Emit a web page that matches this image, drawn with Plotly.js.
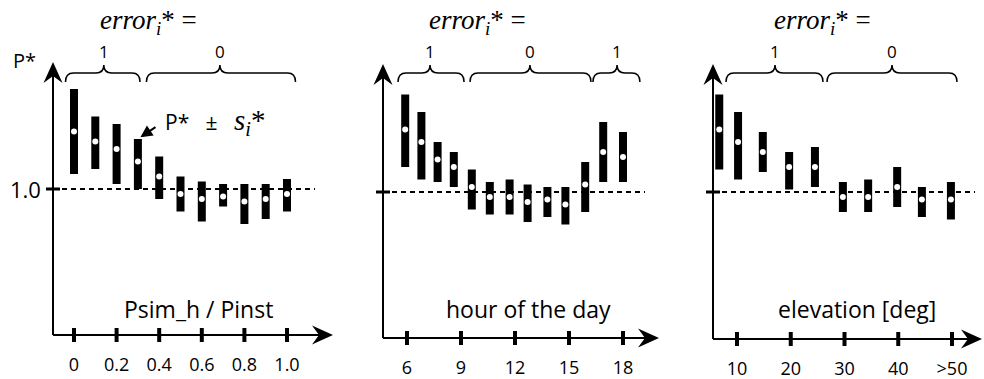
<!DOCTYPE html>
<html><head><meta charset="utf-8">
<script src="https://cdn.plot.ly/plotly-3.0.1.min.js"></script>
<style>html,body{margin:0;padding:0;background:#fff;}#chart{width:984px;height:379px;}</style>
</head><body><div id="chart"></div>
<script>
// ---------------- data ----------------
// Panel 1: Psim_h / Pinst
const ratioX    = [0, 0.1, 0.2, 0.3, 0.4, 0.5, 0.6, 0.7, 0.8, 0.9, 1.0];
const ratioMid  = [1.23, 1.19, 1.16, 1.11, 1.05, 0.98, 0.96, 0.97, 0.95, 0.96, 0.98];
const ratioLow  = [1.06, 1.08, 1.02, 1.00, 0.96, 0.91, 0.87, 0.93, 0.86, 0.88, 0.91];
const ratioHigh = [1.40, 1.29, 1.26, 1.20, 1.13, 1.05, 1.03, 1.02, 1.02, 1.02, 1.04];
const ratioTicks = [0, 0.2, 0.4, 0.6, 0.8, 1.0];
const ratioTickText = ['0', '0.2', '0.4', '0.6', '0.8', '1.0'];

// Panel 2: hour of the day
const hourX    = [5.9, 6.8, 7.7, 8.6, 9.6, 10.6, 11.7, 12.7, 13.8, 14.8, 15.9, 16.9, 18.0];
const hourMid  = [1.25, 1.20, 1.13, 1.10, 1.02, 0.98, 0.98, 0.96, 0.97, 0.95, 1.03, 1.16, 1.14];
const hourLow  = [1.10, 1.05, 1.04, 1.02, 0.93, 0.91, 0.91, 0.88, 0.90, 0.87, 0.92, 1.04, 1.04];
const hourHigh = [1.39, 1.32, 1.20, 1.16, 1.09, 1.04, 1.05, 1.03, 1.02, 1.02, 1.12, 1.28, 1.24];
const hourTicks = [6, 9, 12, 15, 18];
const hourTickText = ['6', '9', '12', '15', '18'];

// Panel 3: elevation [deg]
const elevX    = [6.7, 10.2, 14.8, 19.7, 24.5, 29.7, 34.4, 39.8, 44.4, 49.8];
const elevMid  = [1.25, 1.20, 1.16, 1.10, 1.10, 0.98, 0.98, 1.02, 0.97, 0.97];
const elevLow  = [1.09, 1.05, 1.08, 1.01, 1.02, 0.92, 0.92, 0.94, 0.90, 0.89];
const elevHigh = [1.39, 1.32, 1.24, 1.16, 1.18, 1.04, 1.05, 1.10, 1.02, 1.04];
const elevTicks = [10, 20, 30, 40, 50];
const elevTickText = ['10', '20', '30', '40', '>50'];

// error_i* groups (braces) in axis units
const ratioGroups = [{from: -0.04, to: 0.31, tip: 0.14, label: '1'}, {from: 0.34, to: 1.04, tip: 0.685, label: '0'}];
const hourGroups  = [{from: 5.5, to: 9.17, tip: 7.28, label: '1'}, {from: 9.5, to: 16.22, tip: 12.83, label: '0'}, {from: 16.33, to: 18.94, tip: 17.67, label: '1'}];
const elevGroups  = [{from: 7.95, to: 26.0, tip: 17.07, label: '1'}, {from: 26.74, to: 50.93, tip: 38.84, label: '0'}];

// ---------------- layout geometry ----------------
const W = 984, H = 379, UNIT = 250, PAD = 16;
const SANS = 'Open Sans, sans-serif';
const SERIF = 'Liberation Serif, serif';
const panels = [
  {x: ratioX, mid: ratioMid, lo: ratioLow, hi: ratioHigh, ticks: ratioTicks, tickText: ratioTickText, groups: ratioGroups,
   title: 'Psim_h / Pinst', titlePx: 198, errPx: 148,
   px: [0, 338], ma: [0, 74], mb: [1, 287], yOne: 189, yBase: 335, yAxisPx: 53, xTipPx: 333, yTipPx: 62, dashEndPx: 315},
  {x: hourX, mid: hourMid, lo: hourLow, hi: hourHigh, ticks: hourTicks, tickText: hourTickText, groups: hourGroups,
   title: 'hour of the day', titlePx: 528, errPx: 477,
   px: [338, 664], ma: [6, 407], mb: [18, 623], yOne: 192, yBase: 338, yAxisPx: 383, xTipPx: 659, yTipPx: 64, dashEndPx: 645},
  {x: elevX, mid: elevMid, lo: elevLow, hi: elevHigh, ticks: elevTicks, tickText: elevTickText, groups: elevGroups,
   title: 'elevation [deg]', titlePx: 857, errPx: 822,
   px: [664, 984], ma: [10, 737], mb: [50, 952], yOne: 192, yBase: 339, yAxisPx: 713, xTipPx: 982, yTipPx: 64, dashEndPx: 975}
];
function toX(p, px) { return p.ma[0] + (px - p.ma[1]) * (p.mb[0] - p.ma[0]) / (p.mb[1] - p.ma[1]); }
function dX(p, dpx) { return dpx * (p.mb[0] - p.ma[0]) / (p.mb[1] - p.ma[1]); }
function toY(p, py) { return 1 + (p.yOne - py) / UNIT; }
function paperX(px) { return px / W; }
function paperY(py) { return 1 - py / H; }
function pathOf(p, pts) { return 'M ' + pts.map(q => toX(p, q[0]) + ',' + toY(p, q[1])).join(' L ') + ' Z'; }

const traces = [], shapes = [], annotations = [];
const layout = {
  width: W, height: H, margin: {l: 0, r: 0, t: 0, b: 0},
  paper_bgcolor: '#fff', plot_bgcolor: 'rgba(0,0,0,0)', showlegend: false,
  font: {family: SANS, color: '#000'}
};

panels.forEach((p, i) => {
  const n = i === 0 ? '' : String(i + 1);
  const xa = 'x' + n, ya = 'y' + n;
  const yAxisVal = toY(p, p.yBase);
  layout['xaxis' + n] = {
    domain: [p.px[0] / W, p.px[1] / W], range: [toX(p, p.px[0]), toX(p, p.px[1])],
    anchor: ya, showgrid: false, zeroline: false, showline: false, ticks: '',
    tickvals: p.ticks, ticktext: p.tickText, tickfont: {family: SANS, size: 18, color: '#000'},
    ticklabelstandoff: 17 - PAD, fixedrange: true
  };
  layout['yaxis' + n] = {
    domain: [paperY(p.yBase + PAD), 1], range: [toY(p, p.yBase + PAD), toY(p, 0)], anchor: xa,
    showgrid: false, zeroline: false, showline: false, showticklabels: false, ticks: '', fixedrange: true
  };
  const yAxX = toX(p, p.yAxisPx);

  // bars with mean dot
  traces.push({
    type: 'scatter', mode: 'markers', x: p.x, y: p.mid, xaxis: xa, yaxis: ya, cliponaxis: false,
    marker: {size: 6, color: '#fff', line: {width: 0}},
    error_y: {type: 'data', symmetric: false,
      array: p.hi.map((h, k) => h - p.mid[k]), arrayminus: p.mid.map((m, k) => m - p.lo[k]),
      thickness: 8, width: 0, color: '#000'},
    hoverinfo: 'skip'
  });
  // x tick marks
  traces.push({
    type: 'scatter', mode: 'markers', x: p.ticks, y: p.ticks.map(() => yAxisVal), xaxis: xa, yaxis: ya, cliponaxis: false,
    marker: {symbol: 'line-ns-open', size: 10, line: {width: 4, color: '#000'}, color: '#000'}, hoverinfo: 'skip'
  });
  // y tick at 1.0
  traces.push({
    type: 'scatter', mode: 'markers', x: [yAxX], y: [1], xaxis: xa, yaxis: ya, cliponaxis: false,
    marker: {symbol: 'line-ew-open', size: 10, line: {width: 3, color: '#000'}, color: '#000'}, hoverinfo: 'skip'
  });

  // dashed reference line at 1.0
  shapes.push({type: 'line', xref: xa, yref: ya, x0: yAxX, x1: toX(p, p.dashEndPx), y0: 1, y1: 1,
    line: {color: '#000', width: 1.8, dash: '5px,4px'}});

  // axis lines with stealth arrowheads
  const L = 21, HW = 9.5, NOTCH = 14;
  shapes.push({type: 'line', xref: xa, yref: ya, x0: yAxX, x1: yAxX, y0: yAxisVal, y1: toY(p, p.yTipPx + NOTCH),
    line: {color: '#000', width: 2}});
  shapes.push({type: 'line', xref: xa, yref: ya, x0: yAxX, x1: toX(p, p.xTipPx - NOTCH), y0: yAxisVal, y1: yAxisVal,
    line: {color: '#000', width: 2}});
  shapes.push({type: 'path', xref: xa, yref: ya, fillcolor: '#000', line: {width: 0},
    path: pathOf(p, [[p.yAxisPx, p.yTipPx], [p.yAxisPx + HW, p.yTipPx + L], [p.yAxisPx, p.yTipPx + NOTCH], [p.yAxisPx - HW, p.yTipPx + L]])});
  shapes.push({type: 'path', xref: xa, yref: ya, fillcolor: '#000', line: {width: 0},
    path: pathOf(p, [[p.xTipPx, p.yBase], [p.xTipPx - L, p.yBase - HW], [p.xTipPx - NOTCH, p.yBase], [p.xTipPx - L, p.yBase + HW]])});

  // braces
  const yE = toY(p, 82), yL = toY(p, 73), yT = toY(p, 65), d = dX(p, 8);
  p.groups.forEach(g => {
    const path = `M ${g.from},${yE} Q ${g.from},${yL} ${g.from + d},${yL} L ${g.tip - d},${yL} ` +
      `Q ${g.tip},${yL} ${g.tip},${yT} Q ${g.tip},${yL} ${g.tip + d},${yL} L ${g.to - d},${yL} Q ${g.to},${yL} ${g.to},${yE}`;
    shapes.push({type: 'path', xref: xa, yref: ya, path: path, line: {color: '#000', width: 1.5}, fillcolor: 'rgba(0,0,0,0)'});
    annotations.push({xref: xa, yref: ya, x: g.tip, y: toY(p, 51), xanchor: 'center', yanchor: 'middle',
      text: g.label, showarrow: false, font: {family: SANS, size: 17, color: '#000'}});
  });

  // axis title
  annotations.push({xref: 'paper', yref: 'paper', x: paperX(p.titlePx), y: paperY(309), xanchor: 'center', yanchor: 'middle',
    text: p.title, showarrow: false, font: {family: SANS, size: 23, color: '#000'}});
  // error title
  annotations.push({xref: 'paper', yref: 'paper', x: paperX(p.errPx), y: paperY(22), xanchor: 'center', yanchor: 'middle',
    text: '<i>error<sub>i</sub></i>*\u00A0=', showarrow: false, font: {family: SERIF, size: 27, color: '#000'}});
});

// left-panel labels
annotations.push({xref: 'paper', yref: 'paper', x: paperX(43), y: paperY(189), xanchor: 'right', yanchor: 'middle',
  text: '1.0', showarrow: false, font: {family: SANS, size: 22, color: '#000'}});
annotations.push({xref: 'paper', yref: 'paper', x: paperX(38), y: paperY(61), xanchor: 'right', yanchor: 'middle',
  text: 'P*', showarrow: false, font: {family: SANS, size: 20, color: '#000'}});
// "P* ± s_i*" label with a pointer to a bar top
annotations.push({xref: 'x', yref: 'y', x: ratioX[3], y: ratioHigh[3], ax: 25, ay: -17, xanchor: 'left', yanchor: 'middle',
  text: 'P*\u00A0\u00A0\u00A0±\u00A0\u00A0\u00A0<span style="font-family:Liberation Serif;font-size:29px"><i>s<sub>i</sub></i>*</span>',
  font: {family: SANS, size: 21, color: '#000'},
  showarrow: true, arrowhead: 2, arrowsize: 1.2, arrowwidth: 2, arrowcolor: '#000', standoff: 3, startstandoff: 9});

layout.shapes = shapes;
layout.annotations = annotations;
Plotly.newPlot('chart', traces, layout, {staticPlot: true, displayModeBar: false});
</script></body></html>
